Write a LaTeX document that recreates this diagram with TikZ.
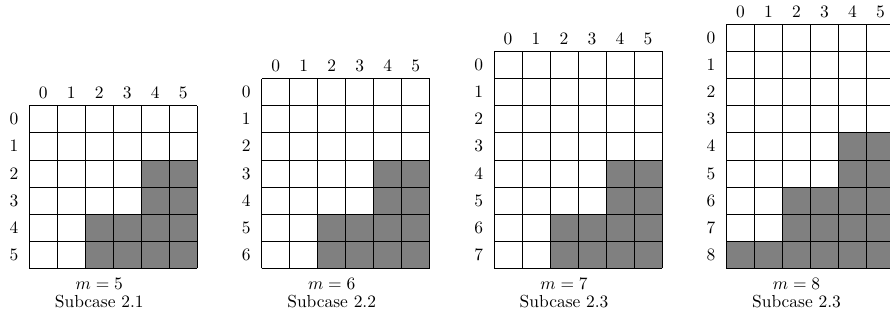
\documentclass[tikz,border=0pt]{standalone}
\begin{document}
\begin{tikzpicture}[x=0.7cm,y=0.6775cm,every node/.style={scale=1.24}]
\useasboundingbox (-1.046,-2.24) rectangle (30.74,9.9);
\tikzset{shade/.style={fill=gray},board/.style={line width=0.5pt}}
\foreach \m/\sub/\k/\ha/\hb/\hc in {5/2.1/0/0/2/4,6/2.2/1/0/2/4,7/2.3/2/0/2/4,8/2.3/3/1/3/5} {
\begin{scope}[shift={(8.3*\k,0)}]
\pgfmathtruncatemacro\n{\m+1}
% staircase of shaded cells
\fill[shade] (0,0) rectangle (2,\ha);
\fill[shade] (2,0) rectangle (4,\hb);
\fill[shade] (4,0) rectangle (6,\hc);
\draw[board,step={(1,1)}] (0,0) grid (6,\n);
\foreach \c in {0,...,5}
  \node (col\k\c) at (\c+0.5,\n+0.46) {$\c$};
\foreach \r in {0,...,\m}
  \node (row\k\r) at (-0.55,\m-\r+0.5) {$\r$};
\node (m\k) at (2.5,-0.58) {$m=\m$};
\node (sub\k) at (2.5,-1.22) {Subcase \sub};
\end{scope}
}
\end{tikzpicture}
\end{document}
